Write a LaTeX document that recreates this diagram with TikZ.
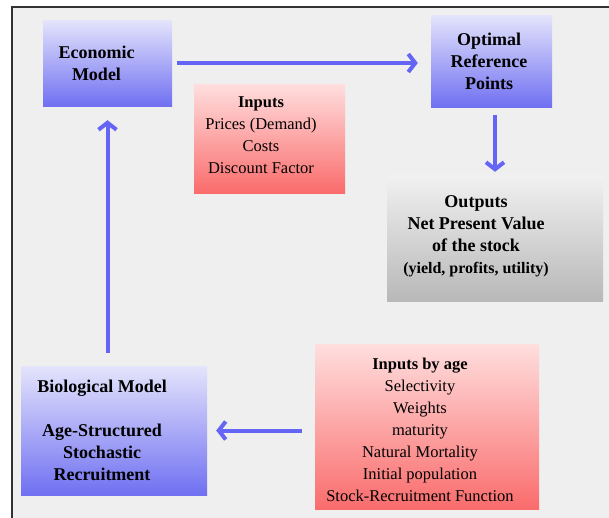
\documentclass[tikz,border=0pt]{standalone}
\usepackage{fontspec}
\setmainfont{Liberation Serif}
\usetikzlibrary{arrows.meta}
\definecolor{flowblue}{RGB}{100,100,245}
\definecolor{bggray}{RGB}{239,239,239}
\definecolor{framegray}{RGB}{50,50,50}
\tikzset{
  bluebox/.style={rectangle,top color={rgb,255:red,228;green,228;blue,252},bottom color={rgb,255:red,112;green,112;blue,242}},
  pinkbox/.style={rectangle,top color={rgb,255:red,255;green,222;blue,222},bottom color={rgb,255:red,250;green,108;blue,108}},
  graybox/.style={rectangle,top color={rgb,255:red,241;green,241;blue,241},bottom color={rgb,255:red,184;green,184;blue,184}},
  head/.style={align=center,font=\bfseries\fontsize{18}{22}\selectfont},
  plain/.style={align=center,font=\fontsize{16.5}{22}\selectfont},
  flow/.style={->,draw=flowblue,line width=4pt}
}
\begin{document}
\begin{tikzpicture}[x=1pt,y=-1pt,>={Straight Barb[length=7pt,width=18pt]}]
\useasboundingbox (0,0) rectangle (609,517);
\clip (0,0) rectangle (609,517);
\draw[line width=2pt,draw=framegray,fill=bggray] (12,7) rectangle (650,560);
% boxes
\node[bluebox,minimum width=129pt,minimum height=86pt] (econ) at (107.5,63) {};
\node[bluebox,minimum width=121pt,minimum height=92pt] (optimal) at (491.5,61) {};
\node[pinkbox,minimum width=151pt,minimum height=109pt] (inputs) at (269.5,138.5) {};
\node[graybox,minimum width=216pt,minimum height=126pt] (outputs) at (495,238) {};
\node[bluebox,minimum width=186pt,minimum height=129pt] (bio) at (114,430.5) {};
\node[pinkbox,minimum width=224pt,minimum height=165pt] (agein) at (427,426.5) {};
% texts
\node[head] (econtext) at (96.5,63) {Economic\\Model};
\node[head] (optimaltext) at (489,61) {Optimal\\Reference\\Points};
\node[plain] (inputstext) at (261,135.5) {\textbf{Inputs}\\Prices (Demand)\\Costs\\Discount Factor};
\node[head] (outputstext) at (476,236) {Outputs\\Net Present Value\\of the stock\\{\fontsize{16}{22}\selectfont (yield, profits, utility)}};
\node[head] (biotext) at (102,430) {Biological Model\\[22pt]Age-Structured\\Stochastic\\Recruitment};
\node[plain] (agetext) at (420,430) {\textbf{Inputs by age}\\Selectivity\\Weights\\maturity\\Natural Mortality\\Initial population\\Stock-Recruitment Function};
% arrows
\draw[flow,shorten <=5pt,shorten >=13pt] (econ.east) -- (econ.east -| optimal.west);
\draw[flow,shorten <=8pt,shorten >=3pt] (optimal.south -| outputs.north) -- (outputs.north);
\draw[flow,shorten <=13pt,shorten >=14pt] (bio.north -| econ.south) -- (econ.south);
\draw[flow,shorten <=13pt,shorten >=9pt] (agein.west |- bio.east) -- (bio.east);
\end{tikzpicture}
\end{document}
